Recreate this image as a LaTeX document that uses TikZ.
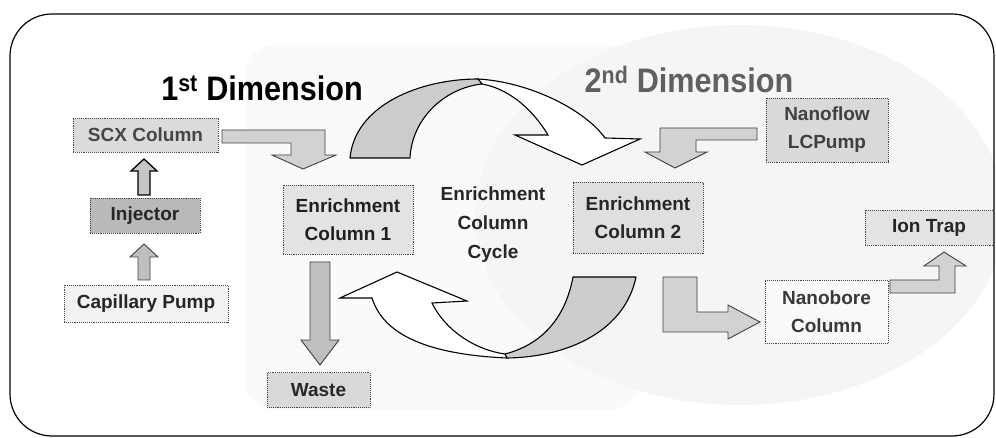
\documentclass[tikz,border=0pt]{standalone}
\usepackage{fontspec}
\setmainfont{Liberation Sans}
\begin{document}
\begin{tikzpicture}[x=1pt,y=-1pt,
  box/.style={draw=gray!55!black, densely dotted, line width=0.9pt, inner sep=0pt,
    align=center, font=\fontsize{19}{28}\selectfont\bfseries},
  barrow/.style={fill=gray!35, draw=gray!50!black, line width=0.9pt, line join=miter},
  cyclefront/.style={fill=gray!40, draw=black, line width=1.1pt, line join=round},
  cycleback/.style={fill=white, draw=black, line width=1.1pt, line join=miter},
  dimtext/.style={font=\fontsize{34}{40}\selectfont\bfseries}]
\useasboundingbox (0,0) rectangle (996,438);
% background shading
\fill[gray!4, rounded corners=30pt] (245,45) rectangle (640,410);
\fill[gray!8] (740,215) ellipse [x radius=265, y radius=190];
% frame
\draw[line width=1.2pt, rounded corners=42pt] (10,14) rectangle (994,436);
% titles
\node[dimtext] (dim1) at (262,88) {\scalebox{0.9}[1]{1\textsuperscript{st} Dimension}};
\node[dimtext, text=gray!75!black] (dim2) at (689,80) {\scalebox{0.9}[1]{2\textsuperscript{nd} Dimension}};
% boxes
\node[box, fill=gray!28, text=gray!55!black, minimum width=145, minimum height=34] (scx) at (145.5,135) {SCX Column};
\node[box, fill=gray!55, text=black!85, minimum width=110, minimum height=35] (inj) at (145,216) {Injector};
\node[box, fill=gray!10, text=black!85, minimum width=164, minimum height=37] (cap) at (146,303.5) {Capillary Pump};
\node[box, fill=gray!22, text=gray!25!black, minimum width=130, minimum height=69] (enr1) at (348,219.5) {Enrichment\\Column 1};
\node[align=center, font=\fontsize{19}{29}\selectfont\bfseries, text=black!85] (cyc) at (493,225) {Enrichment\\Column\\Cycle};
\node[box, fill=gray!25, text=gray!30!black, minimum width=130, minimum height=71] (enr2) at (638,217.5) {Enrichment\\Column 2};
\node[box, fill=gray!30, text=gray!50!black, minimum width=122, minimum height=64] (nano) at (827,130) {Nanoflow\\LCPump};
\node[box, fill=gray!22, text=black!85, minimum width=128, minimum height=35] (ion) at (929,227.5) {Ion Trap};
\node[box, fill=gray!5, text=gray!45!black, minimum width=123, minimum height=63] (nbore) at (826.5,311.5) {Nanobore\\Column};
\node[box, fill=gray!30, text=black!85, minimum width=103, minimum height=35] (waste) at (318.5,390) {Waste};
% cap -> injector
\draw[barrow, fill=gray!50] (138,280) -- (138,257) -- (130,257) -- (144,244) -- (158,257) -- (150,257) -- (150,280) -- cycle;
% injector -> scx
\draw[barrow, fill=gray!45, draw=black, line width=1.3pt] (138,195) -- (138,171) -- (131,171) -- (144,159) -- (157,171) -- (150,171) -- (150,195) -- cycle;
% scx -> enr1
\draw[barrow] (222,130) -- (325,130) -- (325,155) -- (336,155) -- (303,169) -- (272,155) -- (291,155) -- (291,143) -- (222,143) -- cycle;
% nanoflow -> enr2
\draw[barrow] (757,128) -- (660,128) -- (660,152) -- (645,152) -- (675,168) -- (707,152) -- (696,152) -- (696,140) -- (757,140) -- cycle;
% enr1 -> waste
\draw[barrow, fill=gray!50] (310,262) -- (330,262) -- (330,340) -- (339,340) -- (320,365) -- (301,340) -- (310,340) -- cycle;
% enr2 -> nanobore
\draw[barrow] (663,277) -- (697,277) -- (697,312) -- (728,312) -- (728,305) -- (760,322) -- (728,339) -- (728,332) -- (663,332) -- cycle;
% nanobore -> ion trap
\draw[barrow] (890,280) -- (939,280) -- (939,266) -- (924,266) -- (944,252) -- (966,266) -- (955,266) -- (955,293) -- (890,293) -- cycle;
% top cycle arrow (enr1 -> enr2)
\draw[cycleback] (478,79) .. controls (530,82) and (585,110) .. (605,138) -- (640,139) -- (582,165) -- (515,135) -- (548,135) .. controls (530,105) and (505,88) .. (482,84) -- cycle;
\draw[cyclefront] (350,158) .. controls (355,105) and (420,79) .. (478,79) -- (482,84) .. controls (445,88) and (412,118) .. (410,158) -- cycle;
% bottom cycle arrow (enr2 -> enr1)
\draw[cycleback] (507,358) .. controls (440,355) and (385,340) .. (372,298) -- (340,298) -- (397,272) -- (467,301) -- (432,303) .. controls (445,330) and (475,350) .. (505,354) -- cycle;
\draw[cyclefront] (573,277) -- (636,277) .. controls (625,330) and (570,357) .. (507,358) -- (505,354) .. controls (540,345) and (565,320) .. (573,277) -- cycle;
\end{tikzpicture}
\end{document}
